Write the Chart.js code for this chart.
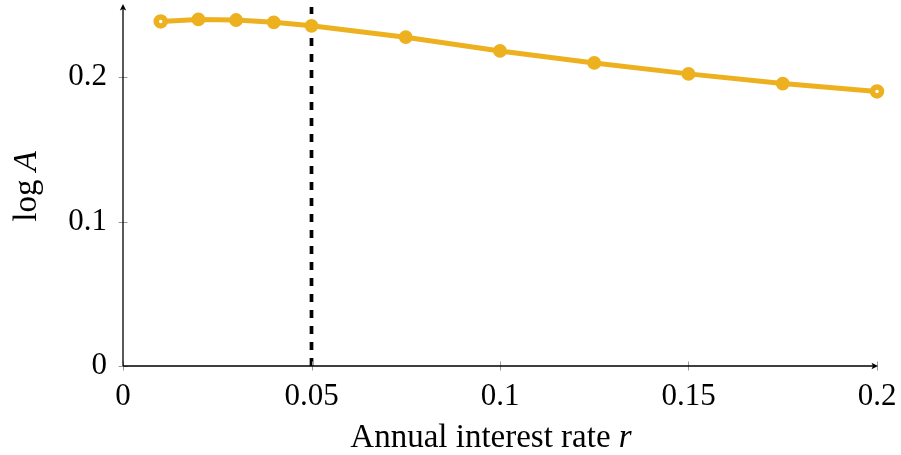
<!DOCTYPE html>
<html>
<head>
<meta charset="utf-8">
<script src="https://cdn.jsdelivr.net/npm/chart.js@4"></script>
<style>
html,body{margin:0;padding:0;background:#fff;}
canvas{display:block;}
</style>
</head>
<body>
<canvas id="c" width="901" height="455"></canvas>
<script>
// ---- data ----
const rates = [0.01, 0.02, 0.03, 0.04, 0.05, 0.075, 0.1, 0.125, 0.15, 0.175, 0.2];
const logA  = [0.2386, 0.2400, 0.2396, 0.2380, 0.2356, 0.2277, 0.2182, 0.2099, 0.2023, 0.1956, 0.1901];
const xTickValues = [0, 0.05, 0.1, 0.15, 0.2];
const xTickLabels = ['0', '0.05', '0.1', '0.15', '0.2'];
const yTickValues = [0, 0.1, 0.2];
const yTickLabels = ['0', '0.1', '0.2'];
const baselineRate = 0.05;
const xTitle = ['Annual interest rate ', 'r'];
const yTitle = ['log ', 'A'];

const LINE = '#EDB120';
const FONT = '"Liberation Serif", "Times New Roman", serif';

const points = rates.map((r, i) => ({x: r, y: logA[i]}));
const n = points.length;
const ptBg = points.map((p, i) => (i === 0 || i === n - 1) ? '#ffffff' : LINE);
const ptBw = points.map((p, i) => (i === 0 || i === n - 1) ? 5.5 : 2);
const ptR  = points.map((p, i) => (i === 0 || i === n - 1) ? 4.5 : 5.9);

function arrowHead(ctx, x, y, dir) {
  ctx.save();
  ctx.translate(x, y);
  if (dir === 'right') ctx.rotate(Math.PI / 2);
  ctx.beginPath();
  ctx.moveTo(0, 0);
  ctx.lineTo(-3.2, 6.5);
  ctx.lineTo(0, 5);
  ctx.lineTo(3.2, 6.5);
  ctx.closePath();
  ctx.fillStyle = '#000';
  ctx.fill();
  ctx.restore();
}

function zeroPad(s) {
  s.paddingTop = 0; s.paddingBottom = 0; s.paddingLeft = 0; s.paddingRight = 0;
}

const decorPlugin = {
  id: 'decor',
  beforeDatasetsDraw(chart) {
    const ctx = chart.ctx;
    const xs = chart.scales.x, ys = chart.scales.y;
    const px = xs.getPixelForValue(baselineRate);
    ctx.save();
    ctx.strokeStyle = '#000';
    ctx.lineWidth = 3.7;
    ctx.setLineDash([8, 8]);
    ctx.beginPath();
    ctx.moveTo(px, ys.getPixelForValue(0));
    ctx.lineTo(px, chart.chartArea.top + 2);
    ctx.stroke();
    ctx.restore();
  },
  afterDraw(chart) {
    const ctx = chart.ctx;
    const xs = chart.scales.x, ys = chart.scales.y;
    const ca = chart.chartArea;
    const x0 = xs.getPixelForValue(0);
    const y0 = ys.getPixelForValue(0);
    ctx.save();
    ctx.strokeStyle = '#9a9a9a';
    ctx.lineWidth = 1;
    xTickValues.forEach(v => {
      const p = Math.round(xs.getPixelForValue(v)) + 0.5;
      ctx.beginPath(); ctx.moveTo(p, y0 - 4.5); ctx.lineTo(p, y0 + 4.5); ctx.stroke();
    });
    yTickValues.forEach(v => {
      const p = Math.round(ys.getPixelForValue(v)) + 0.5;
      ctx.beginPath(); ctx.moveTo(x0 - 4.5, p); ctx.lineTo(x0 + 4.5, p); ctx.stroke();
    });
    ctx.strokeStyle = '#000';
    ctx.lineWidth = 1.3;
    ctx.beginPath();
    ctx.moveTo(x0, y0); ctx.lineTo(ca.right - 3, y0);
    ctx.moveTo(x0, y0); ctx.lineTo(x0, ca.top + 3);
    ctx.stroke();
    arrowHead(ctx, ca.right + 1, y0, 'right');
    arrowHead(ctx, x0, ca.top - 1, 'up');

    ctx.fillStyle = '#000';
    ctx.textBaseline = 'alphabetic';
    const fs = 33;
    ctx.font = fs + 'px ' + FONT;
    const w1 = ctx.measureText(xTitle[0]).width;
    ctx.font = 'italic ' + fs + 'px ' + FONT;
    const w2 = ctx.measureText(xTitle[1]).width;
    const cx = (ca.left + ca.right) / 2 - 9;
    let sx = cx - (w1 + w2) / 2;
    ctx.font = fs + 'px ' + FONT;
    ctx.textAlign = 'left';
    ctx.fillText(xTitle[0], sx, 447);
    ctx.font = 'italic ' + fs + 'px ' + FONT;
    ctx.fillText(xTitle[1], sx + w1, 447);

    ctx.save();
    ctx.translate(36, (ca.top + ca.bottom) / 2 + 1);
    ctx.rotate(-Math.PI / 2);
    ctx.font = fs + 'px ' + FONT;
    const v1 = ctx.measureText(yTitle[0]).width;
    ctx.font = 'italic ' + fs + 'px ' + FONT;
    const v2 = ctx.measureText(yTitle[1]).width;
    let sy = -(v1 + v2) / 2;
    ctx.font = fs + 'px ' + FONT;
    ctx.fillText(yTitle[0], sy, 0);
    ctx.font = 'italic ' + fs + 'px ' + FONT;
    ctx.fillText(yTitle[1], sy + v1, 0);
    ctx.restore();

    ctx.restore();
  }
};

new Chart(document.getElementById('c'), {
  type: 'scatter',
  data: {
    datasets: [{
      data: points,
      showLine: true,
      borderColor: LINE,
      borderWidth: 5,
      backgroundColor: LINE,
      pointBackgroundColor: ptBg,
      pointBorderColor: LINE,
      pointBorderWidth: ptBw,
      pointRadius: ptR,
      pointHoverRadius: ptR,
      tension: 0,
      clip: false
    }]
  },
  options: {
    responsive: false,
    animation: false,
    events: [],
    layout: { autoPadding: false, padding: { left: 0, right: 24, top: 5, bottom: 0 } },
    plugins: { legend: { display: false }, tooltip: { enabled: false } },
    scales: {
      x: {
        type: 'linear',
        min: 0, max: 0.2,
        grid: { display: false, drawTicks: false },
        border: { display: false },
        afterBuildTicks: s => { s.ticks = xTickValues.map(v => ({value: v})); },
        afterFit: s => { s.height = 89; zeroPad(s); },
        ticks: {
          padding: 12,
          maxRotation: 0,
          autoSkip: false,
          color: '#000',
          font: { family: FONT, size: 31 },
          callback: v => { const i = xTickValues.indexOf(v); return i >= 0 ? xTickLabels[i] : ''; }
        }
      },
      y: {
        type: 'linear',
        min: 0, max: 0.25,
        grid: { display: false, drawTicks: false },
        border: { display: false },
        afterBuildTicks: s => { s.ticks = yTickValues.map(v => ({value: v})); },
        afterFit: s => { s.width = 123; zeroPad(s); },
        ticks: {
          padding: 16,
          autoSkip: false,
          color: '#000',
          font: { family: FONT, size: 31 },
          callback: v => { const i = yTickValues.indexOf(v); return i >= 0 ? yTickLabels[i] : ''; }
        }
      }
    }
  },
  plugins: [decorPlugin]
});
</script>
</body>
</html>
